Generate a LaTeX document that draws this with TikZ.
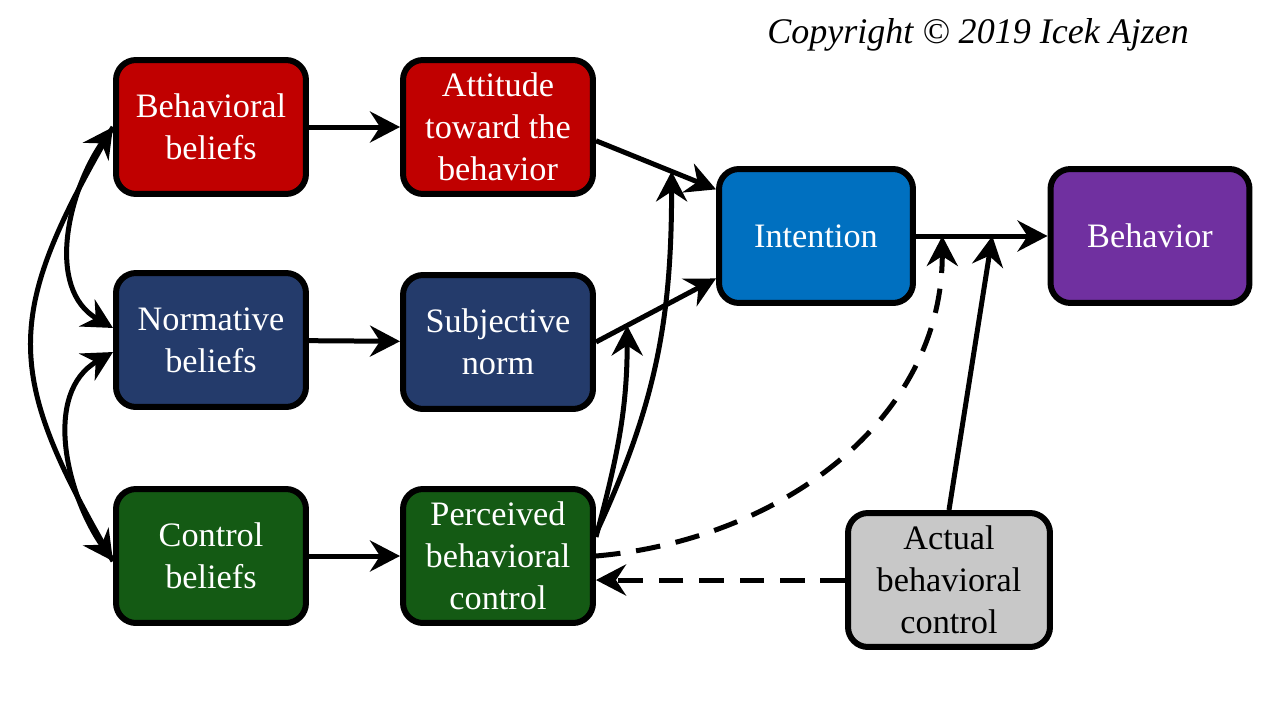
\documentclass[tikz,border=0pt]{standalone}
\usepackage{fontspec}
\setmainfont{Liberation Serif}
\usetikzlibrary{arrows.meta}
\usetikzlibrary{shapes}

\definecolor{attred}{HTML}{C00000}
\definecolor{normblue}{HTML}{243B6B}
\definecolor{ctrlgreen}{HTML}{145A14}
\definecolor{intblue}{HTML}{0070C0}
\definecolor{behpurple}{HTML}{7030A0}
\definecolor{actgray}{HTML}{C8C8C8}

\tikzset{
        box/.style={align=center, rectangle, rounded corners=0.4cm, draw=black, line width=0.12cm,
                text=white, minimum width=3.8cm, minimum height=2.68cm,
                font=\fontsize{19.5}{24}\selectfont},
        % Attitude row
        box_att/.style={box, fill=attred},
        % Norm row
        box_norm/.style={box, fill=normblue},
        % Control row
        box_ctrl/.style={box, fill=ctrlgreen},
        % Intention
        box_int/.style={box, fill=intblue, minimum width=3.88cm},
        % Behavior
        box_beh/.style={box, fill=behpurple, minimum width=3.98cm},
        % Actual control
        box_act/.style={box, fill=actgray, text=black, minimum width=4.04cm},
        % Connectors
        tip/.tip={Stealth[length=0.6cm, width=0.62cm, inset=0.2cm]},
        arr/.style={-tip, line width=0.1cm},
        dblarr/.style={tip-tip, line width=0.1cm},
        dasharr/.style={arr, dash pattern=on 14pt off 9pt}
}

\begin{document}
\begin{tikzpicture}[x=0.02cm, y=0.02cm]
            \useasboundingbox (0,0) rectangle (1288,725);

            \node (copy) at (978,690) {\fontsize{20.5}{24}\selectfont\itshape Copyright © 2019 Icek Ajzen};

            \node[box_att] (bb) at (211,598) {Behavioral\\beliefs};
            \node[box_att] (att) at (498,598) {Attitude\\toward the\\behavior};
            \node[box_norm] (nb) at (211,385) {Normative\\beliefs};
            \node[box_norm] (sn) at (498,383) {Subjective\\norm};
            \node[box_ctrl] (cb) at (211,169) {Control\\beliefs};
            \node[box_ctrl] (pbc) at (498,169) {Perceived\\behavioral\\control};
            \node[box_int] (int) at (816,489) {Intention};
            \node[box_beh] (beh) at (1150,489) {Behavior};
            \node[box_act] (abc) at (949,145) {Actual\\behavioral\\control};

            % beliefs to their outcomes
            \draw[arr] (bb) -- (att);
            \draw[arr] (nb) -- (sn);
            \draw[arr] (cb) -- (pbc);

            % into intention and behavior
            \draw[arr] (att.-8) -- coordinate[pos=0.63] (ma) (int.155);
            \draw[arr] (sn.east) -- coordinate[pos=0.26] (ms) (int.203);
            \draw[arr] (int) -- coordinate[pos=0.2] (m1) coordinate[pos=0.58] (m2) (beh);

            % perceived control moderating
            \draw[arr] (pbc.11) to[out=75, in=-90] (ms);
            \draw[arr] (pbc.13) to[out=65, in=-90] (ma);
            \draw[dasharr] (pbc.east) to[out=5, in=-90] (m1);

            % actual control
            \draw[arr] (abc.north) -- (m2);
            \draw[dasharr] (abc.west) -- (pbc.east |- abc.west);

            % correlations among beliefs
            \draw[dblarr] (bb.west) to[out=235, in=150] (nb.173);
            \draw[dblarr] (nb.187) to[out=210, in=125] (cb.183);
            \draw[line width=0.1cm] (bb.west) to[out=240, in=120, looseness=1.3] (cb.183);
        \end{tikzpicture}
\end{document}
